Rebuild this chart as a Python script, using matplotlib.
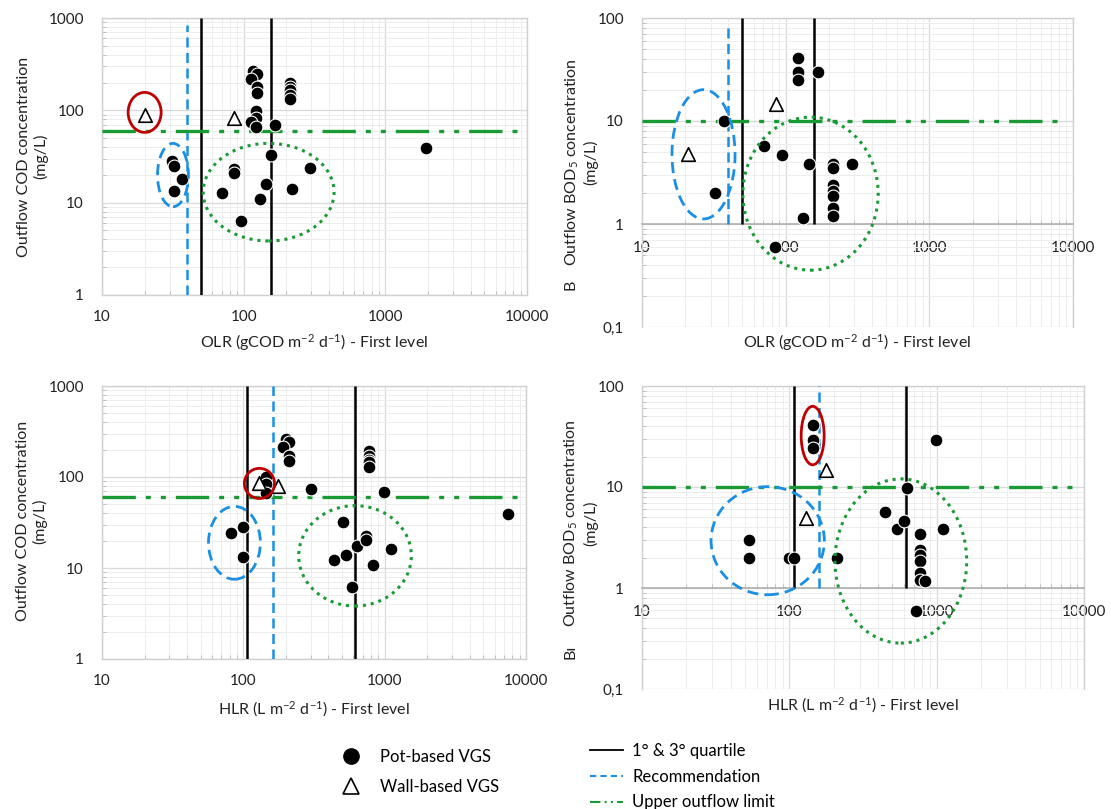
import numpy as np
import matplotlib
matplotlib.use("Agg")
import matplotlib.pyplot as plt
from matplotlib.patches import Ellipse
from matplotlib.lines import Line2D
from matplotlib.ticker import FixedLocator, LogLocator, NullFormatter

FONT = "Lato"
plt.rcParams['font.family'] = [FONT, 'DejaVu Sans']
plt.rcParams['mathtext.fontset'] = 'custom'
plt.rcParams['mathtext.rm'] = FONT
plt.rcParams['mathtext.it'] = FONT
plt.rcParams['font.size'] = 11

# ---------------- data ----------------
# Panel A: OLR vs COD
olr_cod_pot_x = [31, 32, 37, 32, 70, 85, 85, 95, 131, 143, 156, 219, 292, 167, 1930,
                 116, 124, 113, 124, 124, 122, 122, 113, 122, 214, 214, 214, 214, 214]
olr_cod_pot_y = [28, 25, 18, 13.3, 12.8, 23, 21, 6.3, 11, 16, 33, 14, 24, 69, 39,
                 265, 250, 219, 180, 155, 98, 83, 75, 66, 196, 179, 165, 148, 134]
olr_cod_wall_x = [20, 85]
olr_cod_wall_y = [90, 83]

# Panel B: OLR vs BOD5
olr_bod_pot_x = [37, 32, 71, 95, 84, 122, 122, 122, 168, 132, 145, 290,
                 214, 214, 214, 214, 214, 214, 214]
olr_bod_pot_y = [10, 2.0, 5.7, 4.7, 0.6, 41, 30, 25, 30, 1.15, 3.8, 3.8,
                 3.8, 3.5, 2.4, 2.1, 1.85, 1.42, 1.2]
olr_bod_wall_x = [21, 85]
olr_bod_wall_y = [4.8, 14.6]

# Panel C: HLR vs COD
hlr_cod_pot_x = [82, 99, 99, 144, 144, 144, 199, 211, 190, 211, 211, 299, 988,
                 769, 769, 769, 769, 769, 506, 437, 533, 635, 592, 734, 734, 830, 1112, 7470]
hlr_cod_pot_y = [24, 28, 13.3, 100, 84, 66, 262, 241, 216, 172, 149, 74, 68,
                 192, 172, 154, 145, 130, 32, 12.3, 13.8, 17.5, 6.2, 22.5, 20.4, 10.8, 16.1, 39]
hlr_cod_wall_x = [130, 177]
hlr_cod_wall_y = [85, 80]

# Panel D: HLR vs BOD5
hlr_bod_pot_x = [53.5, 53.5, 99.5, 108, 212, 144, 144, 144, 988, 443, 538, 601, 628, 1104,
                 771, 771, 771, 771, 771, 771, 837, 729]
hlr_bod_pot_y = [3.0, 2.0, 2.0, 2.0, 2.0, 41, 29, 24.4, 29, 5.7, 3.8, 4.6, 9.8, 3.8,
                 3.45, 2.37, 2.1, 1.85, 1.42, 1.2, 1.16, 0.59]
hlr_bod_wall_x = [129, 176]
hlr_bod_wall_y = [4.9, 14.8]

# reference lines: quartiles, recommendation, outflow limit
quartiles = {"A": [50, 156], "B": [50, 158], "C": [106, 620], "D": [107, 618]}
recommendation = {"A": 40, "B": 40, "C": 161, "D": 160}
outflow_limit = {"A": 60, "B": 10, "C": 60, "D": 10}

# highlighted groups: (center x, center y, width [decades], height [decades], kind)
groups = {
    "A": [(20, 95, 0.233, 0.433, "red"), (31.7, 19.9, 0.218, 0.686, "blue"),
          (150, 13, 0.924, 1.057, "green")],
    "B": [(26.8, 4.75, 0.439, 1.255, "blue"), (149, 1.97, 0.942, 1.486, "green")],
    "C": [(130, 85, 0.213, 0.331, "red"), (86.5, 18.9, 0.367, 0.801, "blue"),
          (617, 13.6, 0.797, 1.103, "green")],
    "D": [(144, 32.3, 0.156, 0.579, "red"), (71.3, 2.94, 0.769, 1.07, "blue"),
          (571, 1.85, 0.894, 1.626, "green")],
}

x_ticks = [10, 100, 1000, 10000]
x_ticklabels = ["10", "100", "1000", "10000"]
cod_ticks = [1, 10, 100, 1000]
cod_ticklabels = ["1", "10", "100", "1000"]
bod_ticks = [0.1, 1, 10, 100]
bod_ticklabels = ["0,1", "1", "10", "100"]

OLR_LABEL = r"OLR (gCOD m$^{-2}$ d$^{-1}$) - First level"
HLR_LABEL = r"HLR (L m$^{-2}$ d$^{-1}$) - First level"
COD_LABEL = "Outflow COD concentration\n(mg/L)"
BOD_LABEL = "Outflow BOD$_5$ concentration\n(mg/L)"

BLACK = "#000000"
BLUE = "#1a8fe3"
GREEN = "#1a9a35"
RED = "#c00000"
ELL_STYLE = {"red": dict(edgecolor=RED, linestyle="-", linewidth=2.0),
             "blue": dict(edgecolor=BLUE, linestyle=(0, (4, 2.2)), linewidth=2.0),
             "green": dict(edgecolor=GREEN, linestyle=(0, (1, 1.6)), linewidth=2.2)}
LIMIT_LS = (0, (10, 3, 1.5, 3, 1.5, 3))

W, H = 1111, 809
fig = plt.figure(figsize=(W / 100, H / 100), dpi=100)

def px_axes(l, t, r, b):
    return fig.add_axes([l / W, 1 - b / H, (r - l) / W, (b - t) / H])

axA = px_axes(102, 18, 527, 295)
axB = px_axes(642, 18, 1073, 327)
axC = px_axes(102, 386, 526, 659)
axD = px_axes(642, 386, 1084, 689)

def setup(ax, ylim, yt, ytl, bod):
    ax.set_xscale("log")
    ax.set_yscale("log")
    ax.set_xlim(10, 10000)
    ax.set_ylim(*ylim)
    ax.xaxis.set_major_locator(FixedLocator(x_ticks))
    ax.set_xticklabels(x_ticklabels)
    ax.yaxis.set_major_locator(FixedLocator(yt))
    ax.set_yticklabels(ytl)
    ax.xaxis.set_minor_locator(LogLocator(base=10, subs=np.arange(2, 10)))
    ax.yaxis.set_minor_locator(LogLocator(base=10, subs=np.arange(2, 10)))
    ax.xaxis.set_minor_formatter(NullFormatter())
    ax.yaxis.set_minor_formatter(NullFormatter())
    ax.grid(True, which="major", color="#d9d9d9", linewidth=0.9, zorder=0)
    ax.grid(True, which="minor", color="#ededed", linewidth=0.7, zorder=0)
    ax.set_axisbelow(True)
    ax.tick_params(which="major", length=0, labelsize=11, colors="#222222")
    ax.tick_params(axis="y", which="major", pad=13)
    ax.tick_params(axis="x", which="major", pad=11)
    ax.tick_params(which="minor", direction="in", length=3, color="#bfbfbf", width=0.7)
    for s in ax.spines.values():
        s.set_color("#d0d0d0")
        s.set_linewidth(1.0)
    if bod:
        ax.spines["bottom"].set_position(("data", 1))
        ax.spines["bottom"].set_color("#b0b0b0")
        ax.spines["bottom"].set_linewidth(1.2)
        ax.tick_params(axis="x", which="major", pad=12)

def draw(ax, key, px, py, wx, wy, vline_top, rec_top, ybottom):
    q = quartiles[key]
    ax.vlines(q, ybottom, vline_top, colors=BLACK, linewidth=1.8, zorder=3)
    ax.vlines([recommendation[key]], ybottom, rec_top, colors=BLUE,
              linestyles=[(0, (4, 2.2))], linewidth=1.8, zorder=3)
    ax.axhline(outflow_limit[key], xmax=0.985, color=GREEN, linestyle=LIMIT_LS,
               linewidth=2.4, zorder=3)
    ax.scatter(px, py, s=85, c=BLACK, edgecolors="white", linewidths=0.8,
               zorder=5, clip_on=False)
    ax.scatter(wx, wy, s=95, marker="^", facecolors="white", edgecolors=BLACK,
               linewidths=1.2, zorder=6)
    lx0, lx1 = np.log10(ax.get_xlim())
    ly0, ly1 = np.log10(ax.get_ylim())
    for cx, cy, wd, hd, kind in groups[key]:
        fx = (np.log10(cx) - lx0) / (lx1 - lx0)
        fy = (np.log10(cy) - ly0) / (ly1 - ly0)
        e = Ellipse((fx, fy), wd / (lx1 - lx0), hd / (ly1 - ly0),
                    transform=ax.transAxes, facecolor="none", zorder=7,
                    **ELL_STYLE[kind])
        ax.add_patch(e)

setup(axA, (1, 1000), cod_ticks, cod_ticklabels, False)
setup(axB, (0.1, 100), bod_ticks, bod_ticklabels, True)
setup(axC, (1, 1000), cod_ticks, cod_ticklabels, False)
setup(axD, (0.1, 100), bod_ticks, bod_ticklabels, True)

draw(axA, "A", olr_cod_pot_x, olr_cod_pot_y, olr_cod_wall_x, olr_cod_wall_y, 1000, 850, 1)
draw(axB, "B", olr_bod_pot_x, olr_bod_pot_y, olr_bod_wall_x, olr_bod_wall_y, 100, 85, 1)
draw(axC, "C", hlr_cod_pot_x, hlr_cod_pot_y, hlr_cod_wall_x, hlr_cod_wall_y, 1000, 1000, 1)
draw(axD, "D", hlr_bod_pot_x, hlr_bod_pot_y, hlr_bod_wall_x, hlr_bod_wall_y, 100, 100, 1)

lab_kw = dict(fontsize=11.5, color="#222222")
axA.set_ylabel(COD_LABEL, **lab_kw)
axA.yaxis.set_label_coords(-0.127, 0.5)
axA.set_xlabel(OLR_LABEL, **lab_kw)
axA.xaxis.set_label_coords(0.5, -0.135)

axB.set_ylabel(BOD_LABEL, **lab_kw)
axB.yaxis.set_label_coords(-0.102, 0.534)
axB.set_xlabel(OLR_LABEL, **lab_kw)
axB.xaxis.set_label_coords(0.5, -0.016)

axC.set_ylabel(COD_LABEL, **lab_kw)
axC.yaxis.set_label_coords(-0.128, 0.505)
axC.set_xlabel(HLR_LABEL, **lab_kw)
axC.xaxis.set_label_coords(0.5, -0.147)

axD.set_ylabel(BOD_LABEL, **lab_kw)
axD.yaxis.set_label_coords(-0.1, 0.548)
axD.set_xlabel(HLR_LABEL, **lab_kw)
axD.xaxis.set_label_coords(0.5, -0.02)

# truncated label remnants
fig.text(571 / W, 1 - 285 / H, "B", rotation=90, ha="center", va="center",
         fontsize=11.5, color="#222222")
fig.text(571 / W, 1 - 652 / H, "B\u0131", rotation=90, ha="center", va="center",
         fontsize=11.5, color="#222222")

# legends
h_pot = Line2D([], [], marker="o", linestyle="none", markersize=11,
               markerfacecolor=BLACK, markeredgecolor=BLACK)
h_wall = Line2D([], [], marker="^", linestyle="none", markersize=12,
                markerfacecolor="white", markeredgecolor=BLACK, markeredgewidth=1.2)
leg1 = fig.legend([h_pot, h_wall], ["Pot-based VGS", "Wall-based VGS"],
                  loc="upper left", bbox_to_anchor=(343 / W, 1 - 749 / H),
                  frameon=False, fontsize=12, handlelength=1.0,
                  handletextpad=1.25, labelspacing=0.85, borderpad=0,
                  borderaxespad=0)
h_q = Line2D([], [], color=BLACK, linewidth=1.3)
h_r = Line2D([], [], color=BLUE, linewidth=1.5, linestyle=(0, (3, 2)))
h_l = Line2D([], [], color=GREEN, linewidth=1.5, linestyle=(0, (5, 2, 1, 2, 1, 2)))
leg2 = fig.legend([h_q, h_r, h_l], ["1° & 3° quartile", "Recommendation", "Upper outflow limit"],
                  loc="upper left", bbox_to_anchor=(590 / W, 1 - 743 / H),
                  frameon=False, fontsize=12, handlelength=2.0,
                  handletextpad=0.55, labelspacing=0.58, borderpad=0,
                  borderaxespad=0)

fig.savefig("out.png", dpi=100)
